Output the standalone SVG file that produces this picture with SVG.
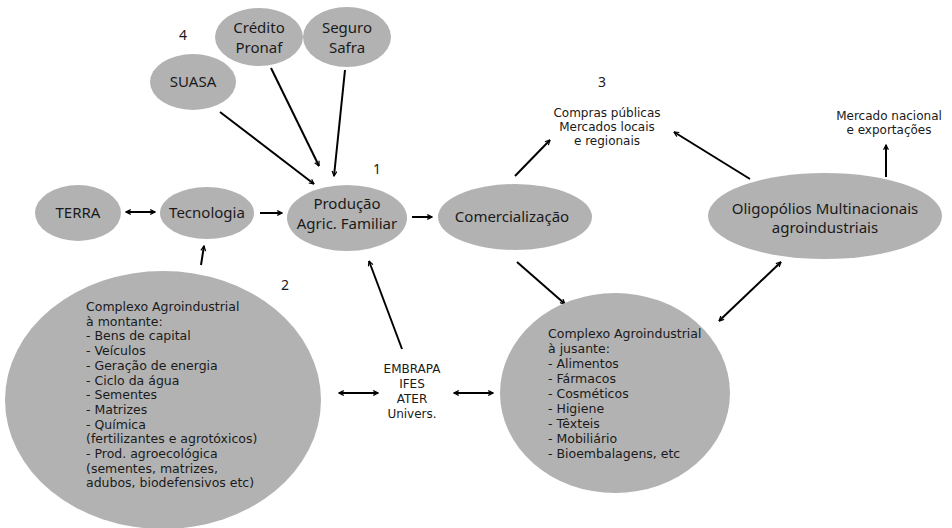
<svg xmlns="http://www.w3.org/2000/svg" width="952" height="528" viewBox="0 0 952 528">
<style>
.n{fill:#b2b2b2}
text{font-family:"Noto Sans","Open Sans","DejaVu Sans",sans-serif;fill:#1a1a1a}
.l{font-size:15px;text-anchor:middle}
.s{font-family:"DejaVu Sans",sans-serif;font-size:12.5px}
.c{font-family:"DejaVu Sans",sans-serif;font-size:12px;text-anchor:middle}
.num{font-size:14px;text-anchor:middle}
.e{stroke:#000;stroke-width:2;fill:none;marker-end:url(#a)}
.d{marker-start:url(#b)}
</style>
<defs>
<marker id="a" viewBox="0 0 10 10" refX="9" refY="5" markerWidth="6" markerHeight="6" orient="auto" markerUnits="userSpaceOnUse">
<path d="M1,1 L9,5 L1,9" fill="none" stroke="#000" stroke-width="2"/>
</marker>
<marker id="b" viewBox="0 0 10 10" refX="1" refY="5" markerWidth="6" markerHeight="6" orient="auto" markerUnits="userSpaceOnUse">
<path d="M9,1 L1,5 L9,9" fill="none" stroke="#000" stroke-width="2"/>
</marker>
</defs>
<g id="connectors">
<line class="e" x1="220" y1="112" x2="314" y2="184"/>
<line class="e" x1="271" y1="68" x2="319" y2="166"/>
<line class="e" x1="345" y1="70" x2="334" y2="176"/>
<line class="e d" x1="126" y1="212" x2="155" y2="212"/>
<line class="e" x1="260" y1="213" x2="282" y2="213"/>
<line class="e" x1="412" y1="217" x2="432" y2="217"/>
<line class="e" x1="201" y1="265" x2="204" y2="246"/>
<line class="e" x1="402" y1="349" x2="369" y2="261"/>
<path class="e d" d="M339,393 L378,393"/>
<path class="e d" d="M454,393 L493,393"/>
<line class="e" x1="515" y1="176" x2="550" y2="140"/>
<line class="e" x1="750" y1="179" x2="674" y2="132"/>
<line class="e" x1="886" y1="177" x2="886" y2="145"/>
<line class="e" x1="517" y1="262" x2="565" y2="304"/>
<line class="e d" x1="719" y1="321" x2="781" y2="262"/>
</g>
<g id="credito"><ellipse class="n" cx="259" cy="37" rx="44" ry="29"/><text class="l" x="259" y="33">Crédito</text><text class="l" x="259" y="52.5">Pronaf</text></g>
<g id="seguro"><ellipse class="n" cx="347" cy="37" rx="44" ry="30"/><text class="l" x="347" y="33">Seguro</text><text class="l" x="347" y="52.5">Safra</text></g>
<g id="suasa"><ellipse class="n" cx="193" cy="82" rx="43" ry="28"/><text class="l" x="193" y="87">SUASA</text></g>
<g id="terra"><ellipse class="n" cx="78" cy="213" rx="43" ry="28"/><text class="l" x="78" y="218">TERRA</text></g>
<g id="tecnologia"><ellipse class="n" cx="207" cy="213" rx="47" ry="26"/><text class="l" x="207" y="218">Tecnologia</text></g>
<g id="producao"><ellipse class="n" cx="347" cy="218" rx="60" ry="33"/><text class="l" x="347" y="209">Produção</text><text class="l" x="347" y="228.5">Agric. Familiar</text></g>
<g id="comercializacao"><ellipse class="n" cx="515" cy="217" rx="77" ry="33"/><text class="l" x="512" y="222">Comercialização</text></g>
<g id="oligopolios"><ellipse class="n" cx="825" cy="216" rx="117" ry="43"/><text class="l" x="825" y="213.5">Oligopólios Multinacionais</text><text class="l" x="825" y="233">agroindustriais</text></g>
<g id="montante"><ellipse class="n" cx="163" cy="400" rx="158" ry="129"/>
<text class="s" x="86" y="311">Complexo Agroindustrial</text>
<text class="s" x="86" y="325.7">à montante:</text>
<text class="s" x="86" y="340.4">- Bens de capital</text>
<text class="s" x="86" y="355.1">- Veículos</text>
<text class="s" x="86" y="369.8">- Geração de energia</text>
<text class="s" x="86" y="384.5">- Ciclo da água</text>
<text class="s" x="86" y="399.2">- Sementes</text>
<text class="s" x="86" y="413.9">- Matrizes</text>
<text class="s" x="86" y="428.6">- Química</text>
<text class="s" x="86" y="443.3">(fertilizantes e agrotóxicos)</text>
<text class="s" x="86" y="458">- Prod. agroecológica</text>
<text class="s" x="86" y="472.7">(sementes, matrizes,</text>
<text class="s" x="86" y="487.4">adubos, biodefensivos etc)</text>
</g>
<g id="jusante"><ellipse class="n" cx="615" cy="393" rx="115" ry="100"/>
<text class="s" x="548" y="338">Complexo Agroindustrial</text>
<text class="s" x="548" y="353">à jusante:</text>
<text class="s" x="548" y="368">- Alimentos</text>
<text class="s" x="548" y="383">- Fármacos</text>
<text class="s" x="548" y="398">- Cosméticos</text>
<text class="s" x="548" y="413">- Higiene</text>
<text class="s" x="548" y="428">- Têxteis</text>
<text class="s" x="548" y="443">- Mobiliário</text>
<text class="s" x="548" y="458">- Bioembalagens, etc</text>
</g>
<g id="instituicoes">
<text class="c" x="412" y="373">EMBRAPA</text>
<text class="c" x="412" y="388">IFES</text>
<text class="c" x="412" y="403">ATER</text>
<text class="c" x="412" y="418">Univers.</text>
</g>
<g id="mercados">
<text class="c" x="607" y="117">Compras públicas</text>
<text class="c" x="607" y="131">Mercados locais</text>
<text class="c" x="607" y="145">e regionais</text>
</g>
<g id="mercado-nacional">
<text class="c" x="889" y="120">Mercado nacional</text>
<text class="c" x="889" y="134">e exportações</text>
</g>
<g id="numeros">
<text class="num" x="183" y="40">4</text>
<text class="num" x="377" y="174">1</text>
<text class="num" x="285" y="290">2</text>
<text class="num" x="602" y="87">3</text>
</g>
</svg>
